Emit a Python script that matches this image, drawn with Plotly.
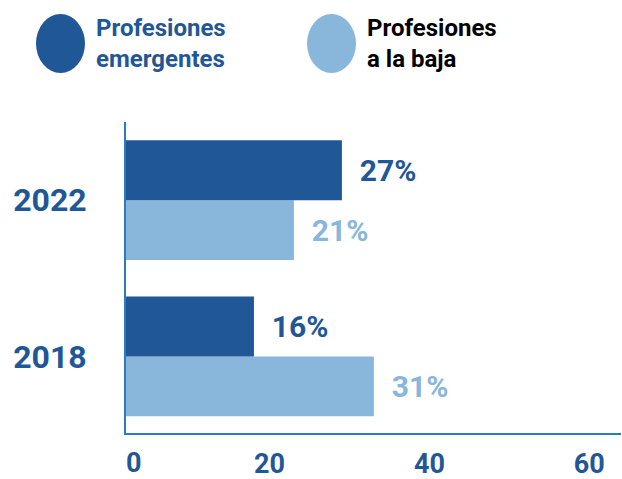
import plotly.graph_objects as go

years = ["2018", "2022"]
emergentes = [16, 27]
baja = [31, 21]
x_ticks = [20, 40, 60]
x_tick_text = ["20", "40", "60"]

DARK = "#1f5797"
LIGHT = "#89b7dc"
AXIS = "#2a7bc2"
FONT = "Roboto"

fig = go.Figure()
fig.add_trace(go.Bar(
    y=years, x=baja, orientation="h", name="Profesiones a la baja",
    marker=dict(color=LIGHT, line=dict(width=0)),
    text=[f"  {v}%" for v in baja], textposition="outside",
    textfont=dict(family=FONT, size=30, color=LIGHT, weight="bold"),
    constraintext="none", cliponaxis=False,
))
fig.add_trace(go.Bar(
    y=years, x=emergentes, orientation="h", name="Profesiones emergentes",
    marker=dict(color=DARK, line=dict(width=0)),
    text=[f"  {v}%" for v in emergentes], textposition="outside",
    textfont=dict(family=FONT, size=30, color=DARK, weight="bold"),
    constraintext="none", cliponaxis=False,
))

fig.update_layout(
    width=622, height=479,
    margin=dict(l=126, r=1, t=122, b=46),
    paper_bgcolor="white", plot_bgcolor="white",
    barmode="group", bargap=0.233, bargroupgap=0,
    showlegend=False,
    font=dict(family=FONT),
    xaxis=dict(
        range=[0, 61.9], showgrid=False, zeroline=False, automargin=False,
        showline=True, linecolor=AXIS, linewidth=2,
        tickvals=x_ticks, ticktext=x_tick_text,
        ticklabelposition="outside left", ticks="",
        tickfont=dict(family=FONT, size=27, color=DARK, weight="bold"),
        ticklabelstandoff=6,
    ),
    yaxis=dict(
        type="category", categoryorder="array", categoryarray=years,
        range=[-0.49, 1.5], showgrid=False, zeroline=False, automargin=False,
        showline=True, linecolor=AXIS, linewidth=2, ticks="",
        tickfont=dict(family=FONT, size=32, color=DARK, weight="bold"),
        ticklabelstandoff=31,
    ),
)

# "0" label, left-aligned at the origin
fig.add_annotation(x=0, y=0, xref="paper", yref="paper", text="0", showarrow=False,
                   xanchor="left", yanchor="top", yshift=-12, xshift=-2,
                   font=dict(family=FONT, size=27, color=DARK, weight="bold"))

# custom legend
def px_x(p):
    return (p - 126) / 495

def px_y(p):
    return (433 - p) / 311

for x0, x1, col in [(36, 85, DARK), (307, 356, LIGHT)]:
    fig.add_shape(type="circle", xref="paper", yref="paper",
                  x0=px_x(x0), x1=px_x(x1), y0=px_y(73), y1=px_y(14),
                  fillcolor=col, line=dict(width=0))

for xl, txt, col in [(94, "Profesiones<br>emergentes", DARK),
                     (365, "Profesiones<br>a la baja", "#000000")]:
    fig.add_annotation(x=px_x(xl), y=px_y(43), xref="paper", yref="paper",
                       text=txt, showarrow=False, xanchor="left", yanchor="middle",
                       align="left",
                       font=dict(family=FONT, size=24, color=col, weight="bold"))

fig.write_html("out.html")
